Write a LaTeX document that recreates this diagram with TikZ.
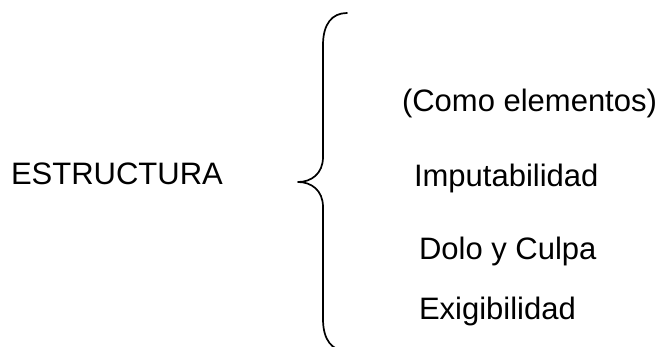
\documentclass[tikz,border=0pt]{standalone}
\usepackage{fontspec}
\setmainfont{Liberation Sans}
\begin{document}
\begin{tikzpicture}[x=1pt,y=-1pt,
  label text/.style={anchor=base west,inner sep=0pt,outer sep=0pt,
    font=\fontsize{31}{37}\selectfont},
  brace line/.style={line width=1.7pt,line cap=round,line join=round}]
  \useasboundingbox (0,0) rectangle (668,347);

  % left-hand heading
  \node[label text] (estructura) at (11,185) {ESTRUCTURA};

  % curly brace
  \draw[brace line]
    (347,13) .. controls (332,13) and (323,24) .. (323,45)
    -- (323,157)
    .. controls (323,174) and (311,182) .. (298,182)
    .. controls (311,182) and (323,190) .. (323,207)
    -- (323,319)
    .. controls (323,340) and (332,351) .. (347,351);

  % items listed to the right of the brace
  \node[label text] (elementos) at (402,112) {(Como elementos)};
  \node[label text] (imputabilidad) at (414,186) {Imputabilidad};
  \node[label text] (dolo) at (419,259) {Dolo y Culpa};
  \node[label text] (exigibilidad) at (419,319) {Exigibilidad};
\end{tikzpicture}
\end{document}
